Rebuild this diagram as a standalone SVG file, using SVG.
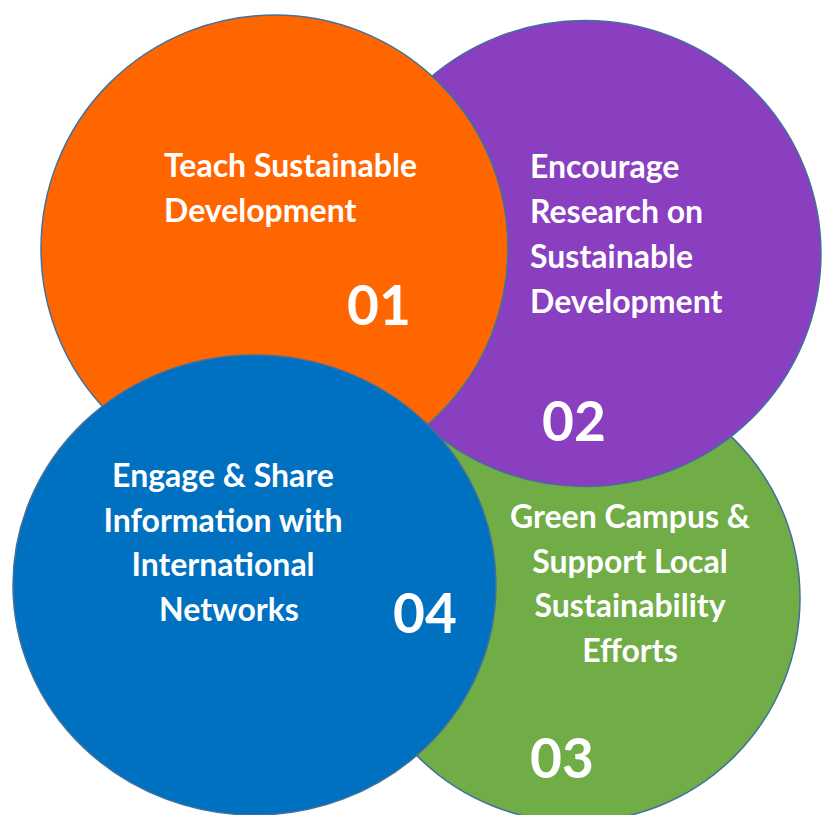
<svg xmlns="http://www.w3.org/2000/svg" width="825" height="815" viewBox="0 0 825 815">
<style>
.c{stroke:#41719C;stroke-width:1.5}
.t{font-family:"Lato","Liberation Sans",sans-serif;font-weight:700;fill:#fff;font-size:32px}
.n{font-family:"Lato","Liberation Sans",sans-serif;font-weight:700;fill:#fff;font-size:55px}
.m{text-anchor:middle}
</style>
<rect width="825" height="815" fill="#fff"/>
<g id="node-03">
<ellipse class="c" cx="576" cy="598" rx="224" ry="224" fill="#70AD47"/>
<text class="t m" x="630" y="528">Green Campus &amp;</text>
<text class="t m" x="630" y="573">Support Local</text>
<text class="t m" x="630" y="617">Sustainability</text>
<text class="t m" x="630" y="662">Efforts</text>
<text class="n" x="530" y="778">03</text>
</g>
<g id="node-02">
<ellipse class="c" cx="585" cy="253.5" rx="236" ry="233" fill="#8A3EC0"/>
<text class="t" x="530" y="178">Encourage</text>
<text class="t" x="530" y="223">Research on</text>
<text class="t" x="530" y="268">Sustainable</text>
<text class="t" x="530" y="313">Development</text>
<text class="n" x="542" y="441">02</text>
</g>
<g id="node-01">
<ellipse class="c" cx="274.5" cy="248.5" rx="233.5" ry="233.5" fill="#FF6600"/>
<text class="t" x="164" y="177">Teach Sustainable</text>
<text class="t" x="164" y="222">Development</text>
<text class="n" x="347" y="325">01</text>
</g>
<g id="node-04">
<ellipse class="c" cx="254.5" cy="585" rx="241.5" ry="230" fill="#0070C0"/>
<text class="t m" x="223" y="487">Engage &amp; Share</text>
<text class="t m" x="223" y="532">Information with</text>
<text class="t m" x="223" y="576">International</text>
<text class="t m" x="229" y="621">Networks</text>
<text class="n" x="393" y="633">04</text>
</g>
</svg>
